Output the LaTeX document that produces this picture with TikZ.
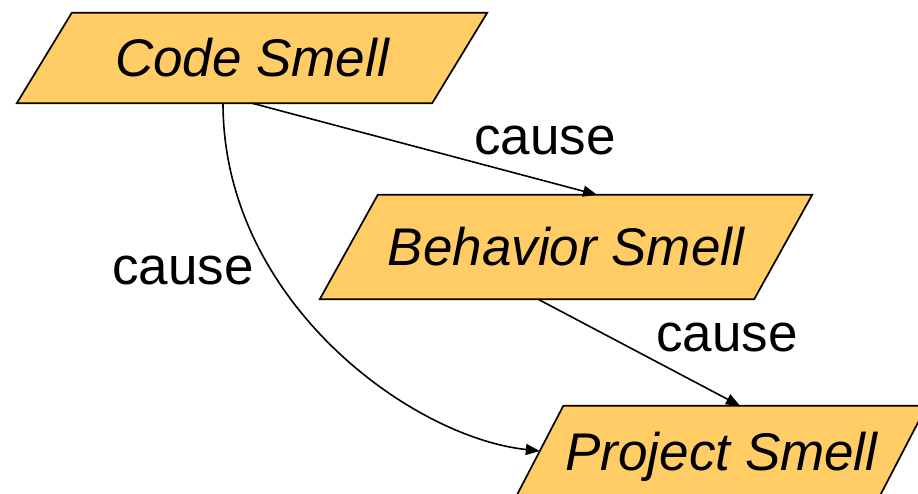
\documentclass[tikz,border=0pt]{standalone}
\usepackage{fontspec}
\setmainfont{Liberation Sans}
\usetikzlibrary{arrows.meta,calc,backgrounds}
\definecolor{smellfill}{RGB}{255,204,102}
\tikzset{
  smelltext/.style={rectangle, inner sep=0pt, font=\fontsize{53}{60}\selectfont\itshape,
    text height=38pt, text depth=0pt},
  smellshape/.style={fill=smellfill, draw=black, line width=1.7pt, line join=miter},
  causeline/.style={draw=black, line width=1.6pt, -{Triangle[length=14pt,width=11pt]}},
  causelabel/.style={inner sep=0pt, font=\fontsize{53}{60}\selectfont,
    text height=27.5pt, text depth=0pt},
}
% name, x, y, width, height, half slant, text
\newcommand\smellbox[7]{%
  \node[smelltext, minimum width=#4pt, minimum height=#5pt] (#1) at (#2,#3) {#7};
  \begin{scope}[on background layer]
    \filldraw[smellshape] ($(#1.north west)+(#6,0)$) -- ($(#1.north east)+(#6,0)$)
      -- ($(#1.south east)-(#6,0)$) -- ($(#1.south west)-(#6,0)$) -- cycle;
  \end{scope}}
\begin{document}
\begin{tikzpicture}[x=1pt, y=-1pt]
  \useasboundingbox (0,0) rectangle (918,494);
  \smellbox{code}{252}{58}{415}{90}{27.5}{Code Smell}
  \smellbox{behav}{566}{247}{434}{104}{29}{Behavior Smell}
  \smellbox{proj}{721.5}{451}{363}{90}{23.5}{Project Smell}

  \draw[causeline] (code.south) -- ($(behav.north)+(31,0)$);
  \draw[causeline] ($(code.south)+(-29,0)$) .. controls (223,300) and (410,437) .. (proj.west);
  \draw[causeline] ($(behav.south)+(-28,0)$) -- ($(proj.north)+(18.5,0)$);

  \node[causelabel] (c1) at (545,141) {cause};
  \node[causelabel] (c2) at (183,271) {cause};
  \node[causelabel] (c3) at (727,338) {cause};
\end{tikzpicture}
\end{document}
